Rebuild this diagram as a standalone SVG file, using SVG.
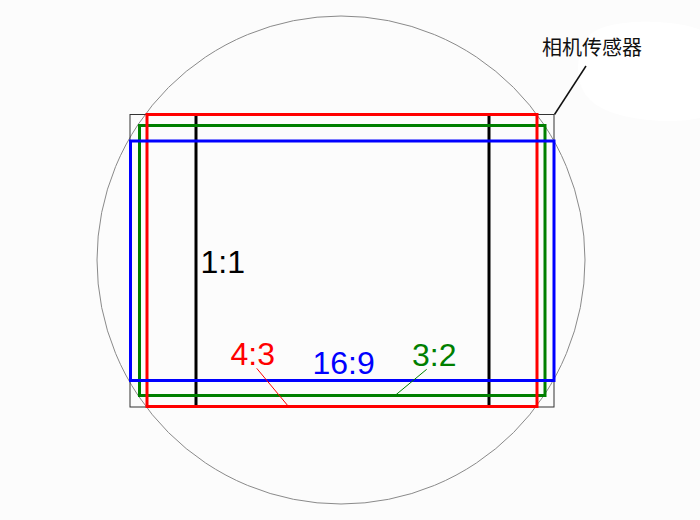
<svg xmlns="http://www.w3.org/2000/svg" width="700" height="520" viewBox="0 0 700 520">
  <style>
    .frame { fill: none; stroke-width: 3; }
    .lbl { font-family: "Liberation Sans", Arial, sans-serif; font-size: 32px; }
    .cjk { font-family: "Liberation Sans", "Noto Sans CJK SC", sans-serif; font-size: 20px; fill: #111; }
  </style>
  <rect x="0" y="0" width="700" height="520" fill="#fcfcfc"/>
  <path d="M585,40 C600,15 680,20 700,30 L700,118 C670,125 610,120 590,100 C575,85 575,60 585,40 Z" fill="#ffffff"/>

  <g id="image-circle">
    <circle cx="341" cy="260" r="244" fill="none" stroke="#8a8a8a" stroke-width="1"/>
  </g>

  <g id="sensor">
    <rect x="130" y="114.5" width="424" height="292.5" fill="none" stroke="#333" stroke-width="1"/>
  </g>

  <g id="ratio-1-1">
    <line x1="196" y1="114" x2="196" y2="407" stroke="#000" stroke-width="3"/>
    <line x1="489" y1="114" x2="489" y2="407" stroke="#000" stroke-width="3"/>
    <text class="lbl" x="200.5" y="273" fill="#000">1:1</text>
  </g>

  <g id="ratio-3-2">
    <rect class="frame" x="139.5" y="125.5" width="405.5" height="270" stroke="#007f00"/>
    <text class="lbl" x="412" y="365.5" fill="#007f00">3:2</text>
  </g>

  <g id="ratio-4-3">
    <rect class="frame" x="147" y="114.5" width="390" height="292" stroke="#ff0000"/>
    <text class="lbl" x="230.5" y="365" fill="#ff0000">4:3</text>
  </g>

  <g id="ratio-16-9">
    <rect class="frame" x="130.5" y="141" width="423.5" height="239.5" stroke="#0000ff"/>
    <text class="lbl" x="312.5" y="374" fill="#0000ff">16:9</text>
  </g>

  <g id="sensor-label">
    <text class="cjk" x="542" y="55">相机传感器</text>
  </g>

  <g id="connectors">
    <line x1="554.5" y1="114.5" x2="586" y2="66" stroke="#111" stroke-width="1.5"/>
    <line x1="256.7" y1="368.3" x2="288.5" y2="406.5" stroke="#ff0000" stroke-width="1"/>
    <line x1="426.7" y1="369.3" x2="395" y2="395.5" stroke="#007f00" stroke-width="1"/>
  </g>
</svg>
